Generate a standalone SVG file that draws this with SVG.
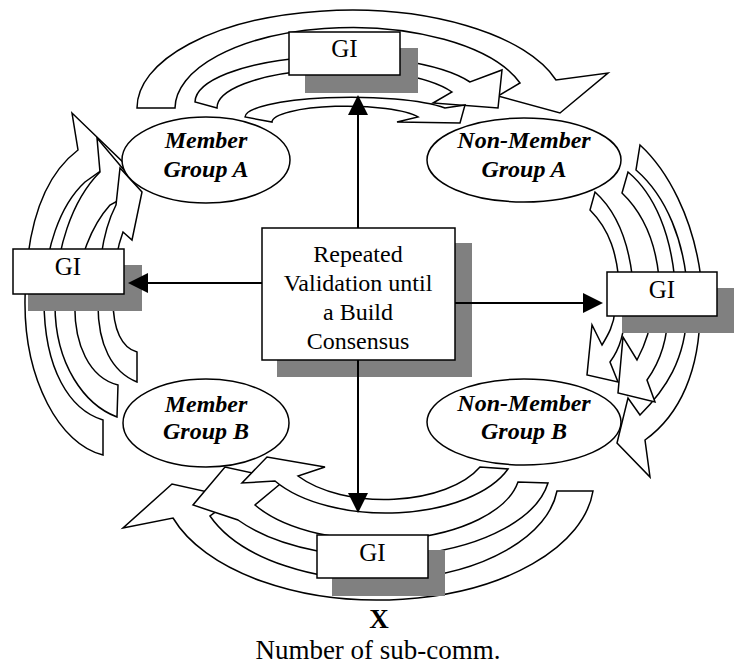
<svg xmlns="http://www.w3.org/2000/svg" width="734" height="666" viewBox="0 0 734 666">
  <defs>
    <marker id="head" markerUnits="userSpaceOnUse" markerWidth="20" markerHeight="20" refX="2" refY="10" orient="auto">
      <path d="M0,0 L20,10 L0,20 Z" fill="#000"/>
    </marker>
  </defs>
  <style>
    .band { fill: #fff; stroke: #000; stroke-width: 1.5; stroke-linejoin: miter; }
    .shadow { fill: #808080; }
    .box { fill: #fff; stroke: #000; stroke-width: 1.5; }
    .grp { fill: #fff; stroke: #000; stroke-width: 1.5; }
    .gi { font-family: "Liberation Serif", "Times New Roman", serif; font-size: 25px; text-anchor: middle; fill: #000; }
    .lbl { font-family: "Liberation Serif", "Times New Roman", serif; font-size: 24px; font-weight: bold; font-style: italic; text-anchor: middle; fill: #000; }
    .ctr { font-family: "Liberation Serif", "Times New Roman", serif; font-size: 24px; text-anchor: middle; fill: #000; }
    .axis { font-family: "Liberation Serif", "Times New Roman", serif; font-size: 27px; text-anchor: middle; fill: #000; }
    .conn { stroke: #000; stroke-width: 2; fill: none; marker-end: url(#head); }
  </style>

  <rect width="734" height="666" fill="#fff"/>

  <!-- curved block arrows circling the groups -->
  <g id="cycle-arrows">
    <!-- top -->
    <path class="band" d="M137,108 A214,98 0 0 1 556,80 L608,73 L560,113 L498,96 L520,83 A177,81 0 0 0 175,108 Z"/>
    <path class="band" d="M195,102 A145,46 0 0 1 470,82 L502,70 L498,108 L433,103 L452,92 A123,38.5 0 0 0 217,108 Z"/>
    <path class="band" d="M245,117 A106,20 0 0 1 445,108 L465,105 L460,123 L397,122 L418,117 A75,16 0 0 0 272,122 Z"/>
    <!-- left -->
    <path class="band" d="M103,455 C60,445 24,380 25,300 C26,225 45,175 78,150 L72,113 L128,167 L102,170 L85,182 C60,205 44,250 44,300 C44,370 70,410 103,420 Z"/>
    <path class="band" d="M117,417 C85,405 55,365 55,305 C55,250 72,200 100,172 L97,138 L135,183 L123,198 L110,205 C92,225 78,258 75,300 C73,345 90,378 118,385 Z"/>
    <path class="band" d="M137,382 C112,372 98,345 98,305 C98,262 104,228 116,205 L120,168 L142,192 L132,240 L123,232 C117,248 113,270 113,300 C113,330 122,348 137,352 Z"/>
    <!-- right, above GI -->
    <path class="band" d="M640,145 C662,165 698,215 703,300 L688,300 C686,240 665,195 636,170 Z"/>
    <path class="band" d="M628,172 C652,192 674,232 676,300 L660,300 C660,248 645,215 622,193 Z"/>
    <path class="band" d="M595,192 C615,210 632,240 634,300 L620,300 C619,252 608,228 590,210 Z"/>
    <!-- right, below GI -->
    <path class="band" d="M700,310 C700,370 680,415 645,440 L650,477 L617,443 L628,398 L640,415 C665,390 686,360 687,310 Z"/>
    <path class="band" d="M668,310 C668,340 660,362 647,380 L655,402 L618,393 L623,337 L637,360 C645,345 651,330 652,310 Z"/>
    <path class="band" d="M625,310 C625,335 619,350 610,362 L618,382 L587,375 L592,325 L602,345 C608,335 614,325 615,310 Z"/>
    <!-- bottom -->
    <path class="band" d="M557,491 A180,100 0 0 1 210,516 L235,498 L172,484 L123,528 L173,518 A216,120 0 0 0 593,491 Z"/>
    <path class="band" d="M518,482 A142,70 0 0 1 255,505 L285,480 L225,467 L193,505 L238,520 A172,87 0 0 0 548,483 Z"/>
    <path class="band" d="M480,467 A105,55 0 0 1 298,476 L325,467 L267,457 L242,483 L275,481 A130,67 0 0 0 508,469 Z"/>
  </g>

  <!-- groups -->
  <g id="member-a">
    <ellipse class="grp" cx="206" cy="160" rx="84" ry="43"/>
    <text class="lbl" x="206" y="148">Member</text>
    <text class="lbl" x="206" y="177">Group A</text>
  </g>
  <g id="non-member-a">
    <ellipse class="grp" cx="524" cy="160" rx="97" ry="42"/>
    <text class="lbl" x="524" y="148">Non-Member</text>
    <text class="lbl" x="524" y="177">Group A</text>
  </g>
  <g id="member-b">
    <ellipse class="grp" cx="206" cy="423" rx="83" ry="44"/>
    <text class="lbl" x="206" y="412">Member</text>
    <text class="lbl" x="206" y="439">Group B</text>
  </g>
  <g id="non-member-b">
    <ellipse class="grp" cx="524" cy="422" rx="97" ry="43"/>
    <text class="lbl" x="524" y="411">Non-Member</text>
    <text class="lbl" x="524" y="439">Group B</text>
  </g>

  <!-- GI boxes -->
  <g id="gi-top">
    <rect class="shadow" x="305" y="48" width="113" height="45"/>
    <rect class="box" x="289" y="32" width="111" height="43"/>
    <text class="gi" x="344.5" y="57">GI</text>
  </g>
  <g id="gi-left">
    <rect class="shadow" x="28" y="265" width="114" height="46"/>
    <rect class="box" x="13" y="249" width="111" height="45"/>
    <text class="gi" x="68" y="275">GI</text>
  </g>
  <g id="gi-right">
    <rect class="shadow" x="622" y="288" width="114" height="45"/>
    <rect class="box" x="607" y="272" width="110" height="44"/>
    <text class="gi" x="662" y="298">GI</text>
  </g>
  <g id="gi-bottom">
    <rect class="shadow" x="332" y="550" width="113" height="46"/>
    <rect class="box" x="317" y="535" width="111" height="43"/>
    <text class="gi" x="372.5" y="561">GI</text>
  </g>

  <!-- central process -->
  <g id="validation">
    <rect class="shadow" x="277" y="243" width="195" height="134"/>
    <rect class="box" x="262" y="228" width="193" height="132"/>
    <text class="ctr" x="358" y="262">Repeated</text>
    <text class="ctr" x="358" y="291">Validation until</text>
    <text class="ctr" x="358" y="320">a Build</text>
    <text class="ctr" x="358" y="349">Consensus</text>
  </g>

  <!-- connectors -->
  <g id="connectors">
    <line class="conn" x1="358" y1="228" x2="358" y2="113"/>
    <line class="conn" x1="262" y1="283" x2="146" y2="283"/>
    <line class="conn" x1="455" y1="303" x2="585" y2="303"/>
    <line class="conn" x1="358" y1="360" x2="358" y2="495"/>
  </g>

  <!-- axis caption -->
  <g id="axis">
    <text class="axis" x="379" y="628" font-weight="bold">X</text>
    <text class="axis" x="378" y="659">Number of sub-comm.</text>
  </g>
</svg>
